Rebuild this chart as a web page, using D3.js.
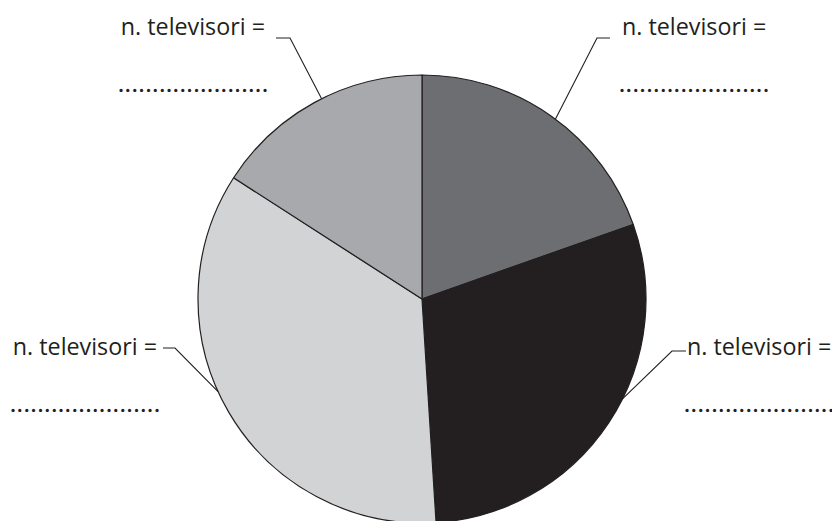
<!DOCTYPE html>
<html>
<head>
<meta charset="utf-8">
<script src="https://cdn.jsdelivr.net/npm/d3@7"></script>
<style>
  body { margin: 0; background: #fff; }
  svg { display: block; }
  .lbl { font-family: "Open Sans", "Noto Sans", sans-serif; fill: #231f20; }
</style>
</head>
<body>
<div id="chart"></div>
<script>
// quote (in %) of each slice, clockwise from 12 o'clock
const slices = ["A", "B", "C", "D"];
const values = [19.6, 29.4, 35.1, 15.9];
const colors = ["#6d6e71", "#231f20", "#d1d3d4", "#a7a9ac"];
const labelText = "n. televisori =";
const dotsText = "......................";

const width = 832, height = 521;
const cx = 422, cy = 299, r = 224;

// label placement: elbow of the leader, text anchor, angle nudge on the arc
const labelLayout = [
  { elbow: [597, 38], end: [610, 38], tx: 622, ty: 35, anchor: "start", nudge: 1.3 },
  { elbow: [672, 351], end: [686, 351], tx: 687, ty: 355, anchor: "start", nudge: -7 },
  { elbow: [175, 348], end: [163, 348], tx: 157, ty: 355, anchor: "end", nudge: 6 },
  { elbow: [290, 38], end: [276, 38], tx: 265, ty: 35, anchor: "end", nudge: 2 }
];

const svg = d3.select("#chart").append("svg")
  .attr("width", width)
  .attr("height", height);

const pie = d3.pie().sort(null).value(d => d)(values);
const arc = d3.arc().innerRadius(0).outerRadius(r);

const g = svg.append("g").attr("transform", `translate(${cx},${cy})`);

g.selectAll("path")
  .data(pie)
  .enter()
  .append("path")
  .attr("d", arc)
  .attr("fill", (d, i) => colors[i])
  .attr("stroke", "#231f20")
  .attr("stroke-width", 1.2)
  .attr("stroke-linejoin", "round");

// leader lines + labels
pie.forEach((d, i) => {
  const L = labelLayout[i];
  const a = (d.startAngle + d.endAngle) / 2 + L.nudge * Math.PI / 180;
  const px = cx + r * Math.sin(a), py = cy - r * Math.cos(a);

  svg.append("polyline")
    .attr("points", `${px},${py} ${L.elbow[0]},${L.elbow[1]} ${L.end[0]},${L.end[1]}`)
    .attr("fill", "none")
    .attr("stroke", "#231f20")
    .attr("stroke-width", 1.1);

  svg.append("text")
    .attr("class", "lbl")
    .attr("x", L.tx)
    .attr("y", L.ty)
    .attr("text-anchor", L.anchor)
    .style("font-size", "23.3px")
    .text(labelText);

  svg.append("text")
    .attr("class", "lbl")
    .attr("x", L.anchor === "start" ? L.tx - 3 : L.tx - 147)
    .attr("y", L.ty + 57)
    .attr("textLength", 150)
    .attr("lengthAdjust", "spacing")
    .style("font-size", "22px")
    .style("font-weight", "600")
    .text(dotsText);
});
</script>
</body>
</html>
